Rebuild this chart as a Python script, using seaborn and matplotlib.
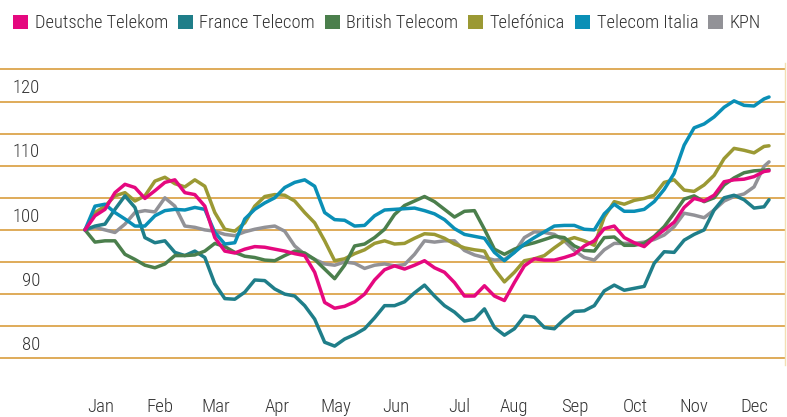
import numpy as np
import pandas as pd
import matplotlib
matplotlib.use("Agg")
import matplotlib.pyplot as plt
from matplotlib.patches import Patch
from matplotlib import font_manager as fm
import seaborn as sns

# ---------------- data (index, start = 100) ----------------
months = ["Jan", "Feb", "Mar", "Apr", "May", "Jun",
          "Jul", "Aug", "Sep", "Oct", "Nov", "Dec"]
month_tick_day = [15, 45, 74, 105, 135, 166, 198, 226, 257, 288, 318, 349]

first_day = 7.0
step_days = 5.1

deutsche_telekom = [100.0, 102.2, 103.2, 105.8, 107.1, 106.6, 104.9, 106.1, 107.4, 107.8,
                    105.8, 105.5, 103.7, 98.8, 96.7, 96.4, 97.0, 97.4, 97.3, 97.0,
                    96.7, 96.3, 96.0, 93.4, 88.7, 87.8, 88.1, 88.8, 90.0, 92.2,
                    93.8, 94.4, 93.9, 94.5, 95.2, 94.1, 93.4, 91.8, 89.7, 89.7,
                    91.3, 89.7, 89.0, 91.8, 94.4, 95.5, 95.3, 95.3, 95.7, 96.2,
                    97.5, 98.3, 100.2, 100.6, 98.8, 98.0, 97.4, 98.8, 100.0, 101.2,
                    103.5, 104.9, 104.5, 105.4, 107.5, 107.8, 107.9, 108.3, 109.1, 109.2]

france_telecom = [100.0, 100.6, 100.9, 103.2, 105.3, 103.5, 98.8, 98.0, 98.3, 96.5,
                  96.0, 96.7, 95.7, 91.6, 89.3, 89.2, 90.3, 92.2, 92.1, 90.8,
                  90.0, 89.7, 88.2, 86.1, 82.5, 81.9, 83.0, 83.7, 84.6, 86.3,
                  88.2, 88.2, 88.8, 90.2, 91.4, 89.7, 88.2, 87.2, 85.8, 86.1,
                  87.7, 84.8, 83.6, 84.6, 86.6, 86.4, 84.8, 84.6, 86.1, 87.3,
                  87.4, 88.2, 90.5, 91.4, 90.6, 90.9, 91.2, 94.8, 96.6, 96.5,
                  98.4, 99.3, 100.0, 103.1, 105.0, 105.4, 104.7, 103.4, 103.6, 104.7]

british_telecom = [100.0, 98.1, 98.3, 98.3, 96.2, 95.4, 94.5, 94.1, 94.7, 96.0,
                   96.0, 96.1, 96.7, 97.9, 97.4, 96.5, 95.9, 95.7, 95.3, 95.2,
                   96.0, 96.7, 96.4, 95.4, 93.9, 92.4, 94.5, 97.5, 97.8, 98.8,
                   100.1, 102.4, 103.8, 104.5, 105.2, 104.4, 103.2, 102.0, 102.9, 103.0,
                   100.1, 97.0, 96.2, 97.0, 97.6, 98.0, 98.5, 99.0, 98.8, 97.5,
                   96.8, 96.7, 98.8, 98.9, 97.6, 97.6, 97.9, 99.0, 100.5, 102.6,
                   104.8, 105.3, 104.4, 105.0, 107.0, 108.1, 108.9, 109.2, 109.3, 109.4]

telefonica = [100.0, 102.7, 103.7, 105.3, 105.8, 104.5, 105.3, 107.6, 108.2, 107.2,
              106.7, 107.8, 106.8, 102.7, 100.1, 99.8, 101.1, 103.7, 105.2, 105.5,
              105.4, 104.5, 102.7, 101.1, 98.3, 95.2, 95.5, 96.3, 96.9, 97.9,
              98.3, 97.8, 97.9, 98.7, 99.4, 99.3, 98.7, 97.8, 97.2, 96.9,
              96.7, 93.9, 91.9, 93.4, 95.2, 95.5, 96.0, 97.2, 98.3, 98.8,
              98.3, 97.6, 102.0, 104.4, 104.0, 104.6, 104.9, 105.4, 107.4, 107.8,
              106.2, 106.0, 107.0, 108.5, 111.1, 112.7, 112.4, 112.0, 113.0, 113.1]

telecom_italia = [100.0, 103.7, 104.0, 102.7, 101.7, 100.6, 100.6, 102.2, 103.0, 103.2,
                  103.1, 103.5, 103.2, 99.6, 97.8, 98.0, 101.7, 103.2, 104.2, 105.0,
                  106.6, 107.4, 107.8, 106.8, 102.7, 101.6, 101.5, 100.6, 100.7, 102.2,
                  103.1, 103.2, 103.3, 103.4, 103.0, 102.5, 101.6, 100.2, 99.3, 99.0,
                  98.7, 96.5, 95.2, 96.5, 97.8, 98.8, 99.7, 100.6, 100.7, 100.7,
                  100.1, 100.0, 102.5, 104.0, 102.9, 102.9, 103.2, 104.4, 106.3, 108.8,
                  113.2, 115.9, 116.5, 117.6, 119.1, 120.1, 119.4, 119.3, 120.4, 120.7]

kpn = [100.0, 100.4, 100.0, 99.6, 100.9, 102.7, 103.0, 102.8, 105.0, 103.7,
       100.6, 100.4, 100.0, 99.8, 99.3, 99.1, 99.7, 100.1, 100.4, 100.6,
       99.8, 97.5, 96.2, 95.4, 94.7, 94.5, 95.0, 94.8, 94.0, 94.5,
       94.7, 94.4, 94.6, 96.2, 98.3, 98.1, 98.3, 98.3, 96.8, 96.1,
       95.7, 95.3, 95.4, 96.5, 98.8, 99.7, 99.6, 99.3, 98.3, 96.8,
       95.7, 95.3, 96.9, 97.9, 97.9, 97.9, 98.1, 98.5, 99.2, 100.5,
       102.6, 102.3, 101.9, 103.1, 104.5, 105.2, 105.6, 106.7, 109.9, 110.6]

series = {
    "Deutsche Telekom": deutsche_telekom,
    "France Telecom": france_telecom,
    "British Telecom": british_telecom,
    "Telefónica": telefonica,
    "Telecom Italia": telecom_italia,
    "KPN": kpn,
}
colors = {
    "Deutsche Telekom": "#e5087f",
    "France Telecom": "#1f7e89",
    "British Telecom": "#4b7f4c",
    "Telefónica": "#9b9934",
    "Telecom Italia": "#0a8fb6",
    "KPN": "#929297",
}
legend_order = list(series.keys())
draw_order = ["KPN", "Telefónica", "France Telecom", "British Telecom",
              "Telecom Italia", "Deutsche Telekom"]

# sample positions (day of year); the last sample is half a step later
n = len(deutsche_telekom)
steps = np.arange(n, dtype=float)
steps[-1] = n - 1.5
days = first_day + steps * step_days

rows = []
for name, vals in series.items():
    for d, v in zip(days, vals):
        rows.append({"day": d, "value": v, "company": name})
df = pd.DataFrame(rows)

# ---------------- style ----------------
sns.set_theme(style="white")
names = {f.name for f in fm.fontManager.ttflist}
stretch = "normal"
if "Liberation Sans Narrow" in names:
    family = ["Liberation Sans Narrow", "DejaVu Sans"]
elif "Roboto Condensed" in names:
    family = ["Roboto Condensed", "DejaVu Sans"]
else:
    family = ["DejaVu Sans"]
    stretch = "condensed"
plt.rcParams["font.family"] = family
plt.rcParams["font.stretch"] = stretch
plt.rcParams["font.weight"] = "light"
text_color = "#333333"
grid_color = "#d6952c"
fs = 13.5

W, H = 787, 417
fig = plt.figure(figsize=(W / 100, H / 100), dpi=100)
fig.patch.set_facecolor("white")

ymin, ymax = 79.0, 126.0
ppu = 6.42
bottom_px = 358.3 + (80 - ymin) * ppu
height_px = (ymax - ymin) * ppu
ax = fig.add_axes([0, 1 - bottom_px / H, 785 / W, height_px / H])

sns.lineplot(data=df, x="day", y="value", hue="company", hue_order=draw_order,
             palette=colors, linewidth=2.5, legend=False, ax=ax,
             solid_capstyle="round", solid_joinstyle="round")

px_per_day = 1.958
ax.set_xlim(first_day - 85 / px_per_day, first_day + 700 / px_per_day)
ax.set_ylim(ymin, ymax)

# grid lines
for v in range(80, 126, 5):
    ax.axhline(v, color=grid_color, linewidth=1.1, zorder=0)

# y labels sitting above their grid line
for v in range(80, 121, 10):
    ax.text(40 / 785, v + 1.3, str(v), transform=ax.get_yaxis_transform(),
            ha="right", va="baseline", fontsize=fs, color=text_color,
            fontweight="light")

ax.set_yticks([])
ax.set_xticks(month_tick_day)
ax.set_xticklabels(months, fontsize=fs, color=text_color, fontweight="light")
ax.tick_params(axis="x", length=0, pad=24)
ax.set_xlabel("")
ax.set_ylabel("")
for s in ["top", "left", "bottom"]:
    ax.spines[s].set_visible(False)
ax.spines["right"].set_color("#f3dfb3")
ax.spines["right"].set_linewidth(1.0)

# legend
handles = [Patch(facecolor=colors[k], edgecolor="none", label=k) for k in legend_order]
leg = fig.legend(handles=handles, loc="center left",
                 bbox_to_anchor=(13 / W, 1 - 23.3 / H), ncol=6, frameon=False,
                 fontsize=13.3, handlelength=0.81, handleheight=0.81,
                 handletextpad=0.37, columnspacing=0.52, borderpad=0, borderaxespad=0)
for t in leg.get_texts():
    t.set_color(text_color)
    t.set_fontweight("light")

fig.savefig("out.png", dpi=100, facecolor="white")
